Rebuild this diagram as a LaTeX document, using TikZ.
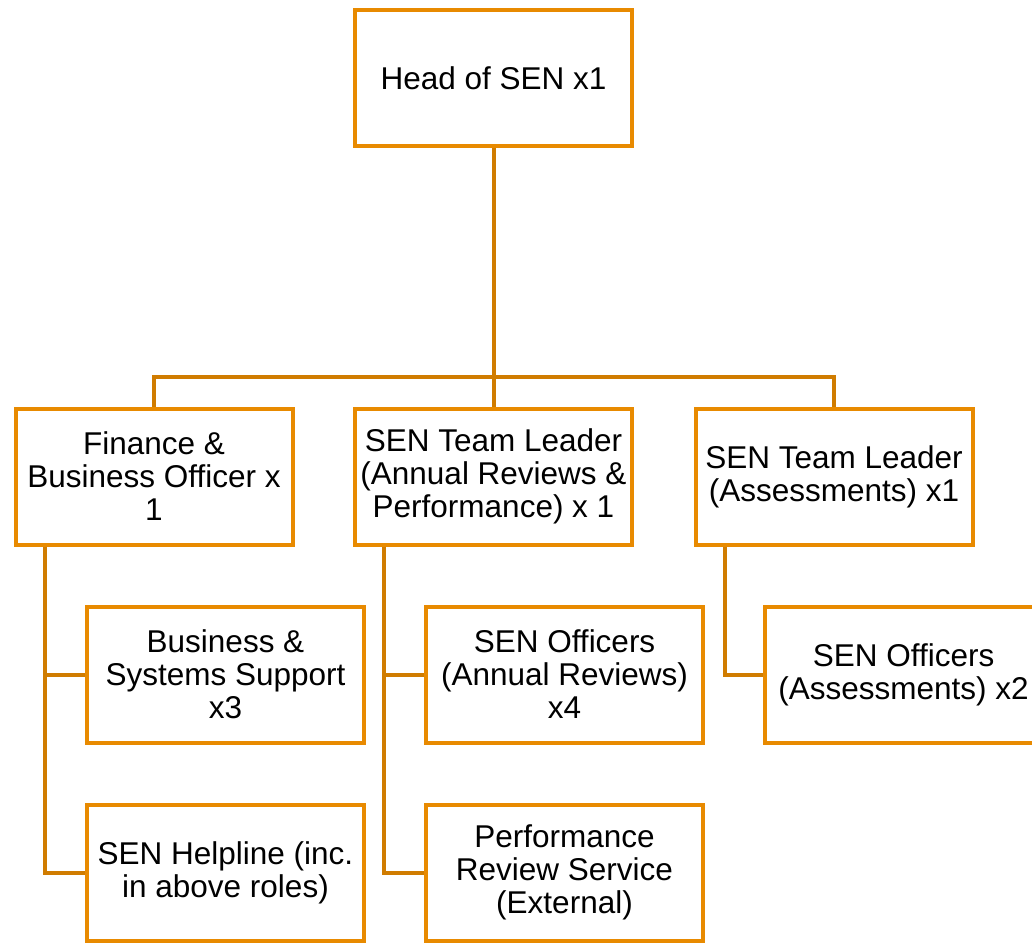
\documentclass[tikz,border=0pt]{standalone}
\usepackage{fontspec}
\setmainfont{Liberation Sans}
\definecolor{boxorange}{RGB}{232,138,0}
\definecolor{lineorange}{RGB}{208,124,0}

\begin{document}
\begin{tikzpicture}[x=1pt, y=1pt,
    role/.style={draw=boxorange, line width=4pt, fill=white, align=center,
      minimum width=277pt, minimum height=136pt, inner sep=0pt,
      font=\fontsize{31.5}{33}\selectfont},
    link/.style={draw=lineorange, line width=4pt}]
  \useasboundingbox (0, 0) rectangle (1032, -945);

  \node[role] (head) at (493.5, -78) {Head of SEN x1};

  \node[role] (fin)  at (154, -476.5)   {Finance \&\\Business Officer x\\1};
  \node[role] (tlar) at (493.5, -476.5) {SEN Team Leader\\(Annual Reviews \&\\Performance) x 1};
  \node[role] (tlas) at (834, -476.5)   {SEN Team Leader\\(Assessments) x1};

  \node[role] (bss)  at (225.5, -674.5) {Business \&\\Systems Support\\x3};
  \node[role] (help) at (225.5, -872.5) {SEN Helpline (inc.\\in above roles)};
  \node[role] (offar) at (564.5, -674.5) {SEN Officers\\(Annual Reviews)\\x4};
  \node[role] (perf) at (564.5, -872.5) {Performance\\Review Service\\(External)};
  \begin{scope}
    \clip (0, 0) rectangle (1032, -945);
    \node[role] (offas) at (903.5, -674.5) {SEN Officers\\(Assessments) x2};
  \end{scope}

  \coordinate (bus) at (493.5, -377);

  \draw[link] (head) -- (tlar);
  \draw[link] (fin.north) |- (bus) -| (tlas.north);
  \draw[link] ([xshift=31pt]fin.south west) |- (bss.west);
  \draw[link] ([xshift=31pt]fin.south west) |- (help.west);
  \draw[link] ([xshift=31pt]tlar.south west) |- (offar.west);
  \draw[link] ([xshift=31pt]tlar.south west) |- (perf.west);
  \draw[link] ([xshift=31pt]tlas.south west) |- (offas.west);
\end{tikzpicture}
\end{document}
